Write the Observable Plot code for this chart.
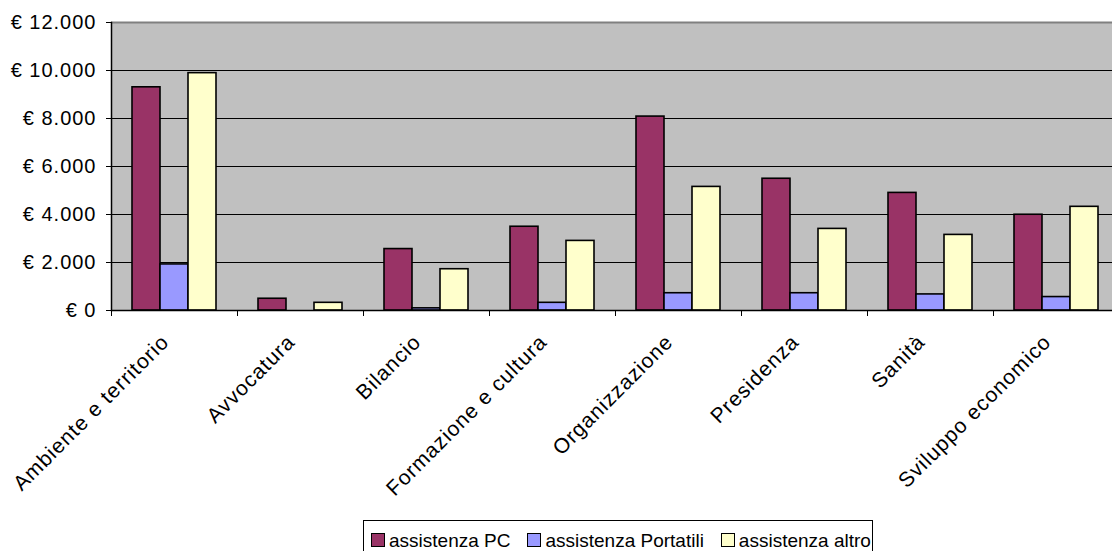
<!DOCTYPE html>
<html><head><meta charset="utf-8">
<script src="https://cdn.jsdelivr.net/npm/d3@7"></script>
<script src="https://cdn.jsdelivr.net/npm/@observablehq/plot@0.6"></script>
<style>
body{margin:0;background:#fff;font-family:"Liberation Sans",Arial,sans-serif;overflow:hidden;width:1112px;height:551px;position:relative}
#chart svg text{letter-spacing:1px}
#legend{position:absolute;left:363px;top:520px;width:510px;height:40px;border:1px solid #000;box-sizing:border-box;padding:9px 0 0 7px;font-size:19px;line-height:22px;white-space:nowrap;color:#000}
#legend .item{display:inline-block;margin-right:17px}
#legend .sw{display:inline-block;width:12px;height:12px;border:1px solid #000;margin-right:4px;vertical-align:baseline}
</style></head><body><div id="chart"></div><div id="legend"></div>
<script>
const categories = ["Ambiente e territorio","Avvocatura","Bilancio","Formazione e cultura","Organizzazione","Presidenza","Sanità","Sviluppo economico"];
const seriesNames = ["assistenza PC","assistenza Portatili","assistenza altro"];
const assistenzaPC = [9300, 490, 2560, 3490, 8080, 5490, 4900, 3990];
const assistenzaPortatili = [1920, 0, 90, 320, 720, 720, 670, 560];
const assistenzaAltro = [9890, 320, 1720, 2900, 5150, 3400, 3150, 4320];
const yTicks = [0, 2000, 4000, 6000, 8000, 10000, 12000];
const seriesColors = ["#993366", "#9999FF", "#FFFFCC"];

const seriesValues = [assistenzaPC, assistenzaPortatili, assistenzaAltro];
const tables = seriesValues.map((vals, k) => categories.map((c, i) => ({category: c, value: vals[i], series: seriesNames[k]})));

const W = 1112, H = 515, mL = 111, mR = -7, mT = 22, mB = 205;
const step = (W - mL - mR) / categories.length;
const barW = step * 28 / 126, gap = step * 21 / 126;

const loc = d3.formatLocale({decimal: ",", thousands: ".", grouping: [3], currency: ["€ ", ""]});
const fmt = loc.format("$,.0f");

const barMarks = tables.map((t, k) => Plot.barY(t, {
  x: "category", y: "value", fill: seriesColors[k], stroke: "#000", strokeWidth: 1.6,
  insetLeft: gap + barW * k, insetRight: step - gap - barW * (k + 1)
}));

const chart = Plot.plot({
  width: W, height: H, marginLeft: mL, marginRight: mR, marginTop: mT, marginBottom: mB,
  style: {fontFamily: "'Liberation Sans', Arial, sans-serif", fontSize: "20px", color: "#000", background: "transparent"},
  x: {type: "band", domain: categories, padding: 0, label: null},
  y: {domain: [0, 12000], label: null},
  marks: [
    Plot.frame({fill: "#c0c0c0", stroke: null}),
    Plot.gridY(yTicks.filter(v => v > 0 && v < 12000), {stroke: "#000", strokeOpacity: 1, strokeWidth: 1}),
    Plot.ruleY([12000], {stroke: "#808080", strokeWidth: 2}),
    ...barMarks,
    Plot.ruleY([0], {stroke: "#000", strokeWidth: 1.5}),
    Plot.frame({anchor: "left", stroke: "#000", strokeWidth: 1.5}),
    Plot.axisY({ticks: yTicks, tickFormat: fmt, tickSize: 5, tickPadding: 10, fontSize: 20, label: null, stroke: "#000"}),
    Plot.axisX({tickSize: 6, tickFormat: () => "", dx: -step / 2, label: null, stroke: "#000"}),
    Plot.axisX({tickSize: 0, tickPadding: 0, tickRotate: -45, textAnchor: "end", lineAnchor: "middle", dx: -9, dy: 28, fontSize: 21, label: null})
  ]
});
document.getElementById("chart").appendChild(chart);

const legend = document.getElementById("legend");
seriesNames.forEach((name, k) => {
  const item = document.createElement("span");
  item.className = "item";
  const sw = document.createElement("span");
  sw.className = "sw";
  sw.style.background = seriesColors[k];
  item.appendChild(sw);
  item.appendChild(document.createTextNode(name));
  legend.appendChild(item);
});
</script></body></html>
